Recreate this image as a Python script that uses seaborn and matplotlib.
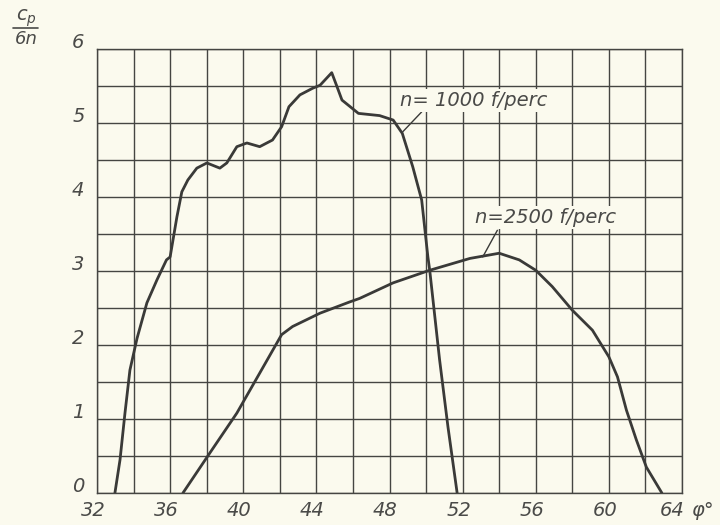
import matplotlib
matplotlib.use("Agg")
import matplotlib.pyplot as plt
import matplotlib.transforms as mtransforms
import seaborn as sns
import pandas as pd

# ---- data ----
phi_1000 = [32.98, 33.26, 33.53, 33.8, 34.19, 34.73, 35.28, 35.8, 36.0, 36.37, 36.64,
            36.97, 37.46, 38.01, 38.72, 39.1, 39.65, 40.2, 40.9, 41.6, 42.1, 42.5,
            43.1, 43.8, 44.2, 44.84, 45.1, 45.4, 46.3, 47.46, 48.2, 48.7, 49.27,
            49.76, 50.1, 50.2, 50.74, 51.2, 51.7]
cp_1000 = [0.0, 0.45, 1.08, 1.66, 2.09, 2.57, 2.88, 3.15, 3.19, 3.73, 4.07,
           4.23, 4.39, 4.46, 4.39, 4.46, 4.68, 4.73, 4.68, 4.77, 4.95, 5.22,
           5.38, 5.47, 5.51, 5.68, 5.51, 5.31, 5.13, 5.1, 5.04, 4.86, 4.41,
           3.96, 3.19, 3.01, 1.8, 0.89, 0.0]

phi_2500 = [36.7, 38.17, 39.65, 40.9, 42.1, 42.7, 44.2, 45.8, 46.37, 48.2, 50.2,
            52.4, 54.0, 55.1, 56.0, 56.9, 58.0, 59.1, 60.0, 60.47, 60.96, 61.5,
            62.05, 62.9]
cp_2500 = [0.0, 0.54, 1.08, 1.62, 2.14, 2.25, 2.43, 2.58, 2.63, 2.84, 3.01,
           3.17, 3.24, 3.15, 3.01, 2.79, 2.47, 2.2, 1.84, 1.57, 1.12, 0.72,
           0.35, 0.0]

x_ticks = [32, 36, 40, 44, 48, 52, 56, 60, 64]
x_tick_labels = ["32", "36", "40", "44", "48", "52", "56", "60", "64"]
y_ticks = [0, 1, 2, 3, 4, 5, 6]
y_tick_labels = ["0", "1", "2", "3", "4", "5", "6"]
series_labels = ["n= 1000 f/perc", "n=2500 f/perc"]

df = pd.concat([
    pd.DataFrame({"phi": phi_1000, "cp": cp_1000, "series": series_labels[0]}),
    pd.DataFrame({"phi": phi_2500, "cp": cp_2500, "series": series_labels[1]}),
])

# ---- style ----
paper = "#fbfaee"
ink = "#3a3a38"
gridc = "#454542"
textc = "#4a4a48"
sns.set_style("white", {"axes.facecolor": paper, "figure.facecolor": paper})
plt.rcParams["font.family"] = ["DejaVu Sans"]

fig = plt.figure(figsize=(7.2, 5.25), dpi=100)
ax = fig.add_axes([97 / 720, 32 / 525, (682 - 97) / 720, (493 - 49) / 525])

for s in series_labels:
    sub = df[df["series"] == s]
    sns.lineplot(data=sub, x="phi", y="cp", ax=ax, color=ink, linewidth=2.0,
                 sort=False, estimator=None, legend=False)

ax.set_xlim(32, 64)
ax.set_ylim(0, 6)

ax.set_xticks(x_ticks)
ax.set_xticklabels(x_tick_labels)
ax.set_yticks(y_ticks)
ax.set_yticklabels(y_tick_labels)
# grid: every 2 in x, every 0.5 in y
ax.set_xticks([32 + 2 * i for i in range(17)], minor=True)
ax.set_yticks([0.5 * i for i in range(13)], minor=True)
ax.grid(True, which="both", color=gridc, linewidth=1.0)
ax.set_axisbelow(True)
for sp in ax.spines.values():
    sp.set_visible(True)
    sp.set_color(gridc)
    sp.set_linewidth(1.0)

ax.tick_params(axis="both", which="both", length=0, labelsize=14,
               labelcolor=textc)
ax.tick_params(axis="x", pad=6)
ax.tick_params(axis="y", pad=9)
for lab in ax.get_xticklabels() + ax.get_yticklabels():
    lab.set_style("italic")

# shift tick labels slightly as in the reference
xlabs = ax.get_xticklabels()
for i, lab in enumerate(xlabs):
    dx = -10 if i == len(xlabs) - 1 else -4
    lab.set_transform(lab.get_transform() +
                      mtransforms.ScaledTranslation(dx / 100, 0, fig.dpi_scale_trans))
for lab in ax.get_yticklabels():
    lab.set_transform(lab.get_transform() +
                      mtransforms.ScaledTranslation(0, 8 / 100, fig.dpi_scale_trans))

ax.set_xlabel("")
ax.set_ylabel("")

# phi degree sign after 64
ax.annotate("φ°", xy=(64, 0), xycoords="data", xytext=(9, -8),
            textcoords="offset pixels", ha="left", va="top", fontsize=14,
            style="italic", color=textc, annotation_clip=False)

# y-axis quantity: c_p over 6n
fig.text(26 / 720, 1 - 18 / 525, "$c_p$", ha="center", va="center",
         fontsize=14, color=textc)
fig.add_artist(plt.Line2D([13 / 720, 38 / 720], [1 - 28 / 525, 1 - 28 / 525],
                          color=textc, linewidth=1.2))
fig.text(26 / 720, 1 - 39 / 525, "6n", ha="center", va="center",
         fontsize=13, style="italic", color=textc)

# curve labels with leader lines
box = dict(facecolor=paper, edgecolor="none", pad=1.5)
ax.text(48.6, 5.3, series_labels[0], fontsize=14, style="italic",
        color=textc, ha="left", va="center", bbox=box)
ax.plot([49.76, 48.72], [5.15, 4.88], color=ink, linewidth=1.0)
ax.text(52.7, 3.72, series_labels[1], fontsize=14, style="italic",
        color=textc, ha="left", va="center", bbox=box)
ax.plot([53.9, 53.1], [3.55, 3.19], color=ink, linewidth=1.0)

fig.savefig("out.png", dpi=100, facecolor=paper)
